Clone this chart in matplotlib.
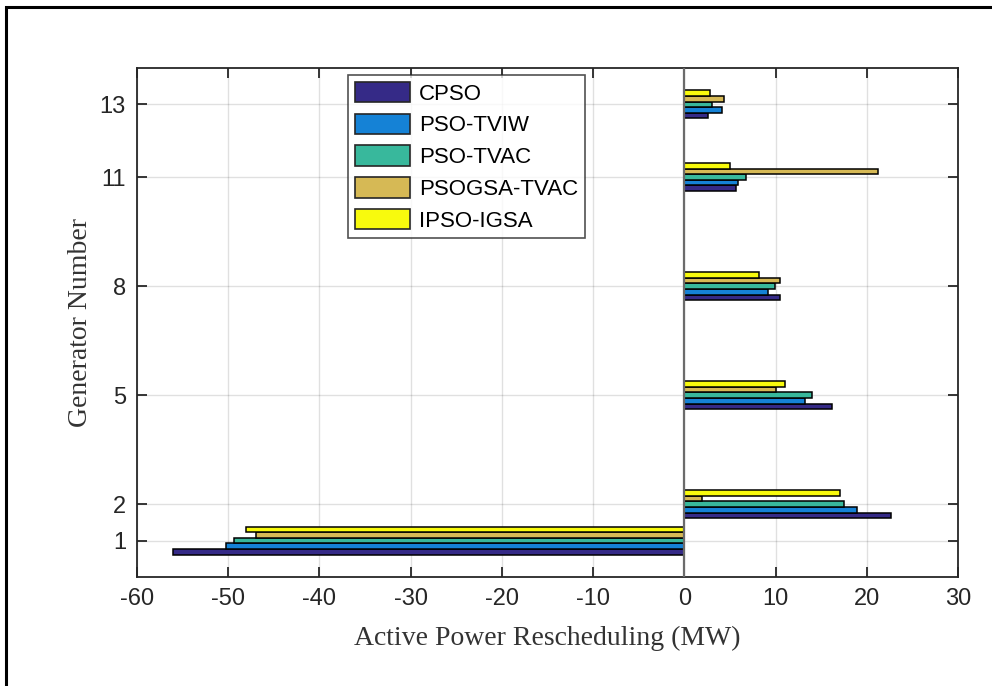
import numpy as np
import matplotlib
matplotlib.use("Agg")
import matplotlib.pyplot as plt
from matplotlib.patches import Rectangle

plt.rcParams["axes.unicode_minus"] = False

# ── Data ─────────────────────────────────────────────────────────────────────
generators = [1, 2, 5, 8, 11, 13]
methods = ["CPSO", "PSO-TVIW", "PSO-TVAC", "PSOGSA-TVAC", "IPSO-IGSA"]

cpso        = [-56.0, 22.7, 16.2, 10.5,  5.7, 2.6]
pso_tviw    = [-50.2, 18.9, 13.2,  9.2,  5.9, 4.1]
pso_tvac    = [-49.4, 17.5, 14.0,  9.9,  6.8, 3.0]
psogsa_tvac = [-47.0,  1.9, 10.0, 10.5, 21.2, 4.4]
ipso_igsa   = [-48.0, 17.1, 11.0,  8.2,  5.0, 2.8]

series = [cpso, pso_tviw, pso_tvac, psogsa_tvac, ipso_igsa]
colors = ["#352a87", "#1582d6", "#38b89c", "#d6b955", "#f8fa0d"]

# ── Plot ─────────────────────────────────────────────────────────────────────
fig = plt.figure(figsize=(9.92, 6.86), dpi=100)
ax = fig.add_axes([0.1381, 0.1589, 0.8276, 0.7420])

axcol = "#262626"
step = 0.154
y = np.array(generators, dtype=float)
for i, (vals, col, name) in enumerate(zip(series, colors, methods)):
    off = (i - 2) * step
    ax.barh(y + off, vals, height=step, color=col, edgecolor="black",
            linewidth=1.1, label=name, zorder=3)

# baseline at zero
ax.axvline(0, color="#6b6b6b", linewidth=1.6, zorder=4)

ax.set_xlim(-60, 30)
ax.set_ylim(0, 14)
ax.set_xticks(np.arange(-60, 31, 10))
ax.set_yticks(generators)
ax.grid(True, color="#000000", alpha=0.12, linewidth=1.0, zorder=0)
ax.set_axisbelow(True)

ax.tick_params(direction="in", length=7, width=1.3, colors=axcol,
               labelsize=17, top=True, right=True, pad=8)
for lbl in ax.get_xticklabels() + ax.get_yticklabels():
    lbl.set_family("Liberation Sans")
for s in ax.spines.values():
    s.set_color(axcol)
    s.set_linewidth(1.3)

ax.set_xlabel("Active Power Rescheduling (MW)", family="Liberation Serif",
              fontsize=20, color="#333333", labelpad=11)
ax.set_ylabel("Generator Number", family="Liberation Serif",
              fontsize=20, color="#333333", labelpad=5)

leg = ax.legend(loc="upper left", bbox_to_anchor=(0.257, 0.986),
                prop={"family": "Liberation Sans", "size": 16},
                frameon=True, fancybox=False, edgecolor=axcol,
                handlelength=2.5, handleheight=1.05, handletextpad=0.4,
                labelspacing=0.4, borderpad=0.3, borderaxespad=0.0)
leg.get_frame().set_linewidth(1.2)
for h in leg.legend_handles:
    h.set_edgecolor(axcol)
    h.set_linewidth(1.2)

# outer frame
fig.patches.append(Rectangle((6 / 992, -0.1), 1.2, 1.1 - 7 / 686,
                             transform=fig.transFigure, fill=False,
                             edgecolor="black", linewidth=2.2))

fig.savefig("out.png", dpi=100)
